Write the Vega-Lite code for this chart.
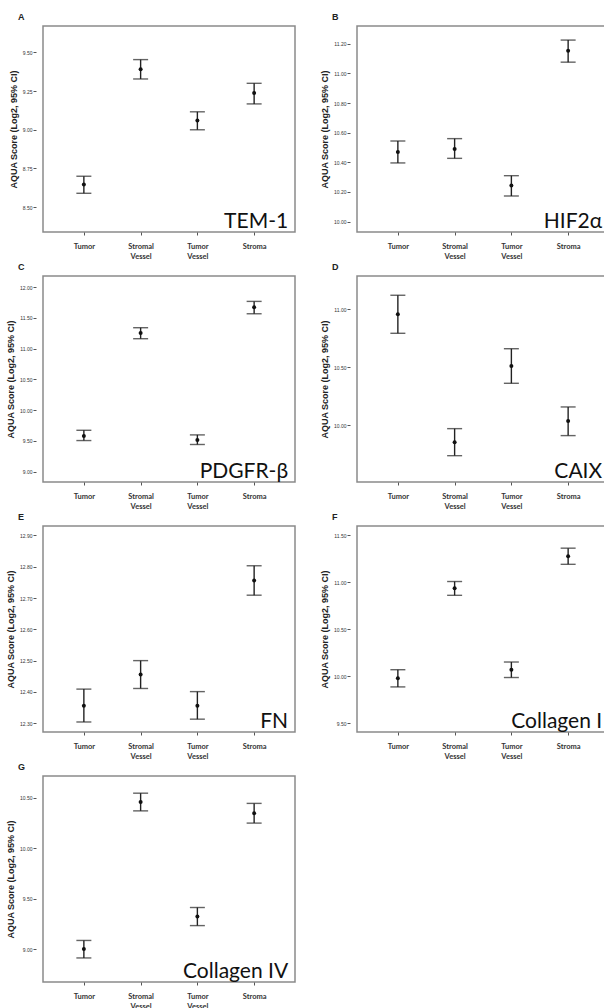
{
  "$schema": "https://vega.github.io/schema/vega-lite/v6.json",
  "background": "white",
  "padding": {"left": 5, "top": 12, "right": 0, "bottom": 0},
  "bounds": "flush",
  "columns": 2,
  "spacing": {"row": 44, "column": 62},
  "datasets": {
    "scores": [
      {"panel": "A", "cat": "Tumor", "mean": 8.646, "lo": 8.59, "hi": 8.70},
      {"panel": "A", "cat": "Stromal Vessel", "mean": 9.39, "lo": 9.328, "hi": 9.453},
      {"panel": "A", "cat": "Tumor Vessel", "mean": 9.06, "lo": 9.0, "hi": 9.116},
      {"panel": "A", "cat": "Stroma", "mean": 9.238, "lo": 9.167, "hi": 9.30},
      {"panel": "B", "cat": "Tumor", "mean": 10.47, "lo": 10.396, "hi": 10.544},
      {"panel": "B", "cat": "Stromal Vessel", "mean": 10.49, "lo": 10.427, "hi": 10.56},
      {"panel": "B", "cat": "Tumor Vessel", "mean": 10.243, "lo": 10.173, "hi": 10.31},
      {"panel": "B", "cat": "Stroma", "mean": 11.153, "lo": 11.076, "hi": 11.225},
      {"panel": "C", "cat": "Tumor", "mean": 9.579, "lo": 9.504, "hi": 9.671},
      {"panel": "C", "cat": "Stromal Vessel", "mean": 11.252, "lo": 11.16, "hi": 11.339},
      {"panel": "C", "cat": "Tumor Vessel", "mean": 9.514, "lo": 9.44, "hi": 9.596},
      {"panel": "C", "cat": "Stroma", "mean": 11.67, "lo": 11.566, "hi": 11.767},
      {"panel": "D", "cat": "Tumor", "mean": 10.957, "lo": 10.793, "hi": 11.121},
      {"panel": "D", "cat": "Stromal Vessel", "mean": 9.853, "lo": 9.738, "hi": 9.971},
      {"panel": "D", "cat": "Tumor Vessel", "mean": 10.511, "lo": 10.362, "hi": 10.66},
      {"panel": "D", "cat": "Stroma", "mean": 10.037, "lo": 9.911, "hi": 10.158},
      {"panel": "E", "cat": "Tumor", "mean": 12.356, "lo": 12.304, "hi": 12.409},
      {"panel": "E", "cat": "Stromal Vessel", "mean": 12.456, "lo": 12.411, "hi": 12.5},
      {"panel": "E", "cat": "Tumor Vessel", "mean": 12.356, "lo": 12.313, "hi": 12.401},
      {"panel": "E", "cat": "Stroma", "mean": 12.756, "lo": 12.709, "hi": 12.803},
      {"panel": "F", "cat": "Tumor", "mean": 9.98, "lo": 9.887, "hi": 10.07},
      {"panel": "F", "cat": "Stromal Vessel", "mean": 10.937, "lo": 10.862, "hi": 11.009},
      {"panel": "F", "cat": "Tumor Vessel", "mean": 10.07, "lo": 9.987, "hi": 10.152},
      {"panel": "F", "cat": "Stroma", "mean": 11.278, "lo": 11.192, "hi": 11.364},
      {"panel": "G", "cat": "Tumor", "mean": 9.003, "lo": 8.915, "hi": 9.088},
      {"panel": "G", "cat": "Stromal Vessel", "mean": 10.458, "lo": 10.37, "hi": 10.545},
      {"panel": "G", "cat": "Tumor Vessel", "mean": 9.326, "lo": 9.235, "hi": 9.414},
      {"panel": "G", "cat": "Stroma", "mean": 10.347, "lo": 10.249, "hi": 10.444}
    ],
    "labels": [
      {"panel": "A", "cat": "Stroma", "name": "TEM-1"},
      {"panel": "B", "cat": "Stroma", "name": "HIF2α"},
      {"panel": "C", "cat": "Stroma", "name": "PDGFR-β"},
      {"panel": "D", "cat": "Stroma", "name": "CAIX"},
      {"panel": "E", "cat": "Stroma", "name": "FN"},
      {"panel": "F", "cat": "Stroma", "name": "Collagen I"},
      {"panel": "G", "cat": "Stroma", "name": "Collagen IV"}
    ]
  },
  "config": {
    "view": {"stroke": "#8a8a8a", "strokeWidth": 1.5, "fill": "white"},
    "title": {"anchor": "start", "font": "Liberation Sans", "fontSize": 9, "fontWeight": "bold", "color": "#222", "dx": -25, "offset": 4, "frame": "group"},
    "axisY": {"domain": false, "grid": false, "offset": 7, "tickSize": 3, "tickCount": 20, "tickColor": "#555", "labelPadding": 1, "labelOverlap": false, "labelBound": false, "labelFont": "Liberation Sans", "labelFontSize": 5, "labelColor": "#333", "format": ".2f", "titleFont": "Liberation Sans", "titleFontSize": 9, "titleFontWeight": "bold", "titleColor": "#222", "titlePadding": 4},
    "axisX": {"domain": false, "grid": false, "title": null, "tickSize": 3, "tickColor": "#555", "labelAngle": 0, "labelPadding": 7, "labelOverlap": false, "labelFont": "Lato", "labelFontSize": 7.5, "labelFontWeight": "bold", "labelColor": "#333", "labelLineHeight": 10, "labelExpr": "split(datum.label, ' ')"},
    "point": {"filled": true, "color": "#111", "size": 16, "opacity": 1},
    "rule": {"color": "#222", "strokeWidth": 1.4},
    "tick": {"color": "#222", "thickness": 1.4, "size": 15},
    "text": {"font": "Lato", "fontSize": 21, "color": "#111", "align": "right", "baseline": "alphabetic", "dx": 34, "dy": -4}
  },
  "concat": [
    {
      "title": "A", "width": 252, "height": 206,
      "data": {"name": "scores"},
      "transform": [{"filter": "datum.panel === 'A'"}],
      "encoding": {"x": {"field": "cat", "type": "nominal", "sort": ["Tumor", "Stromal Vessel", "Tumor Vessel", "Stroma"], "scale": {"type": "point", "padding": 0.72}}},
      "layer": [
        {"mark": "rule", "encoding": {"y": {"field": "lo", "type": "quantitative", "scale": {"domain": [8.34, 9.67], "nice": false, "zero": false}, "axis": {"values": [8.5, 8.75, 9, 9.25, 9.5]}, "title": "AQUA Score (Log2, 95% CI)"}, "y2": {"field": "hi"}}},
        {"mark": "tick", "encoding": {"y": {"field": "lo", "type": "quantitative", "title": "AQUA Score (Log2, 95% CI)"}}},
        {"mark": "tick", "encoding": {"y": {"field": "hi", "type": "quantitative", "title": "AQUA Score (Log2, 95% CI)"}}},
        {"mark": "point", "encoding": {"y": {"field": "mean", "type": "quantitative", "title": "AQUA Score (Log2, 95% CI)"}}},
        {"data": {"name": "labels"}, "transform": [{"filter": "datum.panel === 'A'"}], "mark": "text", "encoding": {"y": {"datum": 8.34, "type": "quantitative", "title": "AQUA Score (Log2, 95% CI)"}, "text": {"field": "name"}}}
      ]
    },
    {
      "title": "B", "width": 252, "height": 206,
      "data": {"name": "scores"},
      "transform": [{"filter": "datum.panel === 'B'"}],
      "encoding": {"x": {"field": "cat", "type": "nominal", "sort": ["Tumor", "Stromal Vessel", "Tumor Vessel", "Stroma"], "scale": {"type": "point", "padding": 0.72}}},
      "layer": [
        {"mark": "rule", "encoding": {"y": {"field": "lo", "type": "quantitative", "scale": {"domain": [9.93, 11.32], "nice": false, "zero": false}, "axis": {"values": [10, 10.2, 10.4, 10.6, 10.8, 11, 11.2]}, "title": "AQUA Score (Log2, 95% CI)"}, "y2": {"field": "hi"}}},
        {"mark": "tick", "encoding": {"y": {"field": "lo", "type": "quantitative", "title": "AQUA Score (Log2, 95% CI)"}}},
        {"mark": "tick", "encoding": {"y": {"field": "hi", "type": "quantitative", "title": "AQUA Score (Log2, 95% CI)"}}},
        {"mark": "point", "encoding": {"y": {"field": "mean", "type": "quantitative", "title": "AQUA Score (Log2, 95% CI)"}}},
        {"data": {"name": "labels"}, "transform": [{"filter": "datum.panel === 'B'"}], "mark": "text", "encoding": {"y": {"datum": 9.93, "type": "quantitative", "title": "AQUA Score (Log2, 95% CI)"}, "text": {"field": "name"}}}
      ]
    },
    {
      "title": "C", "width": 252, "height": 206,
      "data": {"name": "scores"},
      "transform": [{"filter": "datum.panel === 'C'"}],
      "encoding": {"x": {"field": "cat", "type": "nominal", "sort": ["Tumor", "Stromal Vessel", "Tumor Vessel", "Stroma"], "scale": {"type": "point", "padding": 0.72}}},
      "layer": [
        {"mark": "rule", "encoding": {"y": {"field": "lo", "type": "quantitative", "scale": {"domain": [8.83, 12.18], "nice": false, "zero": false}, "axis": {"values": [9, 9.5, 10, 10.5, 11, 11.5, 12]}, "title": "AQUA Score (Log2, 95% CI)"}, "y2": {"field": "hi"}}},
        {"mark": "tick", "encoding": {"y": {"field": "lo", "type": "quantitative", "title": "AQUA Score (Log2, 95% CI)"}}},
        {"mark": "tick", "encoding": {"y": {"field": "hi", "type": "quantitative", "title": "AQUA Score (Log2, 95% CI)"}}},
        {"mark": "point", "encoding": {"y": {"field": "mean", "type": "quantitative", "title": "AQUA Score (Log2, 95% CI)"}}},
        {"data": {"name": "labels"}, "transform": [{"filter": "datum.panel === 'C'"}], "mark": "text", "encoding": {"y": {"datum": 8.83, "type": "quantitative", "title": "AQUA Score (Log2, 95% CI)"}, "text": {"field": "name"}}}
      ]
    },
    {
      "title": "D", "width": 252, "height": 206,
      "data": {"name": "scores"},
      "transform": [{"filter": "datum.panel === 'D'"}],
      "encoding": {"x": {"field": "cat", "type": "nominal", "sort": ["Tumor", "Stromal Vessel", "Tumor Vessel", "Stroma"], "scale": {"type": "point", "padding": 0.72}}},
      "layer": [
        {"mark": "rule", "encoding": {"y": {"field": "lo", "type": "quantitative", "scale": {"domain": [9.511, 11.287], "nice": false, "zero": false}, "axis": {"values": [10, 10.5, 11]}, "title": "AQUA Score (Log2, 95% CI)"}, "y2": {"field": "hi"}}},
        {"mark": "tick", "encoding": {"y": {"field": "lo", "type": "quantitative", "title": "AQUA Score (Log2, 95% CI)"}}},
        {"mark": "tick", "encoding": {"y": {"field": "hi", "type": "quantitative", "title": "AQUA Score (Log2, 95% CI)"}}},
        {"mark": "point", "encoding": {"y": {"field": "mean", "type": "quantitative", "title": "AQUA Score (Log2, 95% CI)"}}},
        {"data": {"name": "labels"}, "transform": [{"filter": "datum.panel === 'D'"}], "mark": "text", "encoding": {"y": {"datum": 9.511, "type": "quantitative", "title": "AQUA Score (Log2, 95% CI)"}, "text": {"field": "name"}}}
      ]
    },
    {
      "title": "E", "width": 252, "height": 206,
      "data": {"name": "scores"},
      "transform": [{"filter": "datum.panel === 'E'"}],
      "encoding": {"x": {"field": "cat", "type": "nominal", "sort": ["Tumor", "Stromal Vessel", "Tumor Vessel", "Stroma"], "scale": {"type": "point", "padding": 0.72}}},
      "layer": [
        {"mark": "rule", "encoding": {"y": {"field": "lo", "type": "quantitative", "scale": {"domain": [12.272, 12.93], "nice": false, "zero": false}, "axis": {"values": [12.3, 12.4, 12.5, 12.6, 12.7, 12.8, 12.9]}, "title": "AQUA Score (Log2, 95% CI)"}, "y2": {"field": "hi"}}},
        {"mark": "tick", "encoding": {"y": {"field": "lo", "type": "quantitative", "title": "AQUA Score (Log2, 95% CI)"}}},
        {"mark": "tick", "encoding": {"y": {"field": "hi", "type": "quantitative", "title": "AQUA Score (Log2, 95% CI)"}}},
        {"mark": "point", "encoding": {"y": {"field": "mean", "type": "quantitative", "title": "AQUA Score (Log2, 95% CI)"}}},
        {"data": {"name": "labels"}, "transform": [{"filter": "datum.panel === 'E'"}], "mark": "text", "encoding": {"y": {"datum": 12.272, "type": "quantitative", "title": "AQUA Score (Log2, 95% CI)"}, "text": {"field": "name"}}}
      ]
    },
    {
      "title": "F", "width": 252, "height": 206,
      "data": {"name": "scores"},
      "transform": [{"filter": "datum.panel === 'F'"}],
      "encoding": {"x": {"field": "cat", "type": "nominal", "sort": ["Tumor", "Stromal Vessel", "Tumor Vessel", "Stroma"], "scale": {"type": "point", "padding": 0.72}}},
      "layer": [
        {"mark": "rule", "encoding": {"y": {"field": "lo", "type": "quantitative", "scale": {"domain": [9.407, 11.6], "nice": false, "zero": false}, "axis": {"values": [9.5, 10, 10.5, 11, 11.5]}, "title": "AQUA Score (Log2, 95% CI)"}, "y2": {"field": "hi"}}},
        {"mark": "tick", "encoding": {"y": {"field": "lo", "type": "quantitative", "title": "AQUA Score (Log2, 95% CI)"}}},
        {"mark": "tick", "encoding": {"y": {"field": "hi", "type": "quantitative", "title": "AQUA Score (Log2, 95% CI)"}}},
        {"mark": "point", "encoding": {"y": {"field": "mean", "type": "quantitative", "title": "AQUA Score (Log2, 95% CI)"}}},
        {"data": {"name": "labels"}, "transform": [{"filter": "datum.panel === 'F'"}], "mark": "text", "encoding": {"y": {"datum": 9.407, "type": "quantitative", "title": "AQUA Score (Log2, 95% CI)"}, "text": {"field": "name"}}}
      ]
    },
    {
      "title": "G", "width": 252, "height": 206,
      "data": {"name": "scores"},
      "transform": [{"filter": "datum.panel === 'G'"}],
      "encoding": {"x": {"field": "cat", "type": "nominal", "sort": ["Tumor", "Stromal Vessel", "Tumor Vessel", "Stroma"], "scale": {"type": "point", "padding": 0.72}}},
      "layer": [
        {"mark": "rule", "encoding": {"y": {"field": "lo", "type": "quantitative", "scale": {"domain": [8.677, 10.715], "nice": false, "zero": false}, "axis": {"values": [9, 9.5, 10, 10.5]}, "title": "AQUA Score (Log2, 95% CI)"}, "y2": {"field": "hi"}}},
        {"mark": "tick", "encoding": {"y": {"field": "lo", "type": "quantitative", "title": "AQUA Score (Log2, 95% CI)"}}},
        {"mark": "tick", "encoding": {"y": {"field": "hi", "type": "quantitative", "title": "AQUA Score (Log2, 95% CI)"}}},
        {"mark": "point", "encoding": {"y": {"field": "mean", "type": "quantitative", "title": "AQUA Score (Log2, 95% CI)"}}},
        {"data": {"name": "labels"}, "transform": [{"filter": "datum.panel === 'G'"}], "mark": "text", "encoding": {"y": {"datum": 8.677, "type": "quantitative", "title": "AQUA Score (Log2, 95% CI)"}, "text": {"field": "name"}}}
      ]
    }
  ]
}
